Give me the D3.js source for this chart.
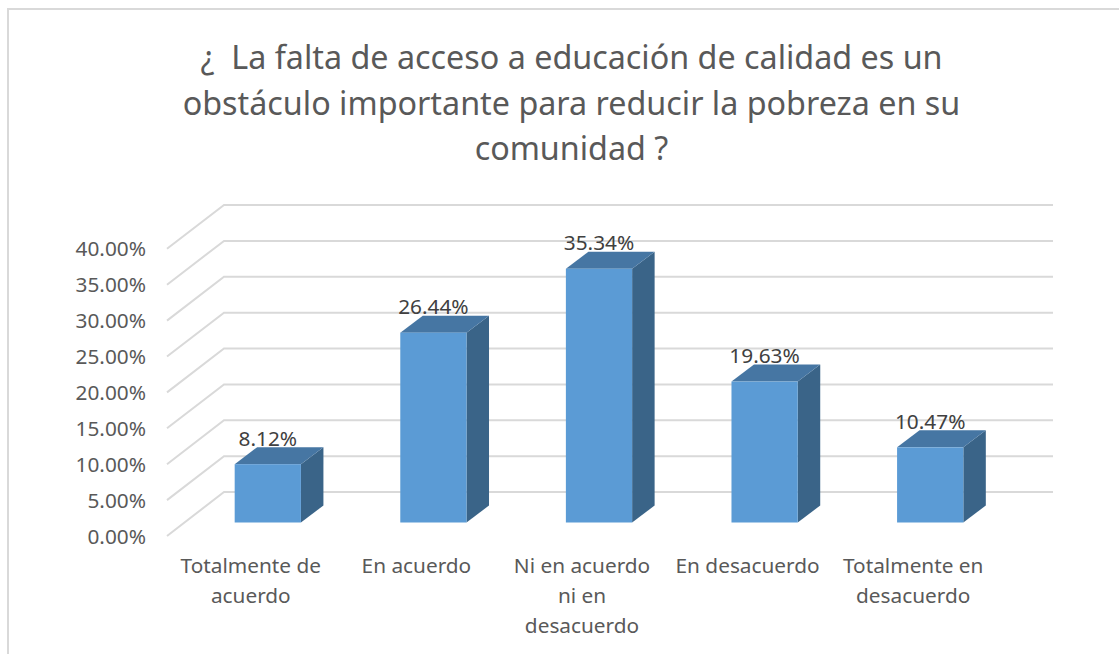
<!DOCTYPE html>
<html><head><meta charset="utf-8">
<script src="https://cdn.jsdelivr.net/npm/d3@7/dist/d3.min.js"></script>
<style>html,body{margin:0;padding:0;background:#fff}svg{display:block}text{font-family:"Noto Sans","Open Sans",sans-serif;white-space:pre}</style>
</head><body><svg id="c" width="1119" height="654"></svg>
<script>
const categories=["Totalmente de acuerdo","En acuerdo","Ni en acuerdo ni en desacuerdo","En desacuerdo","Totalmente en desacuerdo"];
const categoryLines=[["Totalmente de","acuerdo"],["En acuerdo"],["Ni en acuerdo","ni en","desacuerdo"],["En desacuerdo"],["Totalmente en","desacuerdo"]];
const values=[8.12,26.44,35.34,19.63,10.47];
const ticks=[0,5,10,15,20,25,30,35,40];
const titleLines=["¿  La falta de acceso a educación de calidad es un","obstáculo importante para reducir la pobreza en su","comunidad ?"];

const svg=d3.select("#c");
svg.append("path").attr("d","M8,654V9H1119").attr("fill","none").attr("stroke","#d9d9d9").attr("stroke-width",2);

svg.append("g").selectAll("text").data(titleLines).join("text")
 .attr("x",571.5).attr("y",(d,i)=>69+i*45.5).attr("text-anchor","middle")
 .attr("font-size",32.3).attr("fill","#595959").text(d=>d);

const frontY=d3.scaleLinear().domain([0,40]).range([536,248.8]);
const backY=d3.scaleLinear().domain([0,40]).range([492,205]);
const backX=224,frontX=167,rightX=1053;
svg.append("g").selectAll("path").data(ticks).join("path")
 .attr("d",d=>`M${frontX},${frontY(d)}L${backX},${backY(d)}H${rightX}`)
 .attr("fill","none").attr("stroke","#d9d9d9").attr("stroke-width",2);

svg.append("g").selectAll("text").data(ticks).join("text")
 .attr("x",146).attr("y",d=>frontY(d)+7.5).attr("text-anchor","end")
 .attr("font-size",20.8).attr("fill","#595959").text(d=>d3.format(".2f")(d)+"%");

const x=d3.scaleBand().domain(categories).range([185,1013]).paddingInner(0.6).paddingOuter(0.3);
const bw=x.bandwidth(), baseY=522.5, dx=22.5, dy=17;
const barY=v=>baseY-(frontY(0)-frontY(v));
const bars=svg.append("g").selectAll("g").data(categories).join("g");
bars.append("path").attr("fill","#3a6488")
 .attr("d",(c,i)=>{const l=x(c)+bw,t=barY(values[i]);return `M${l},${baseY}L${l+dx},${baseY-dy}V${t-dy}L${l},${t}Z`;});
bars.append("path").attr("fill","#4676a3")
 .attr("d",(c,i)=>{const l=x(c),t=barY(values[i]);return `M${l},${t}L${l+dx},${t-dy}H${l+bw+dx}L${l+bw},${t}Z`;});
bars.append("rect").attr("fill","#5b9bd5").attr("x",c=>x(c)).attr("width",bw)
 .attr("y",(c,i)=>barY(values[i])).attr("height",(c,i)=>baseY-barY(values[i]));
bars.append("text").attr("x",c=>x(c)+bw/2).attr("y",(c,i)=>barY(values[i])-18.5)
 .attr("text-anchor","middle").attr("font-size",20.8).attr("fill","#404040")
 .text((c,i)=>values[i].toFixed(2)+"%");

const labels=svg.append("g").selectAll("text").data(categories).join("text")
 .attr("text-anchor","middle").attr("font-size",20.8).attr("fill","#595959");
labels.selectAll("tspan").data((c,i)=>categoryLines[i].map(t=>({t,c}))).join("tspan")
 .attr("x",d=>x(d.c)+bw/2-17).attr("y",(d,i)=>572.5+i*30).text(d=>d.t);
</script></body></html>
